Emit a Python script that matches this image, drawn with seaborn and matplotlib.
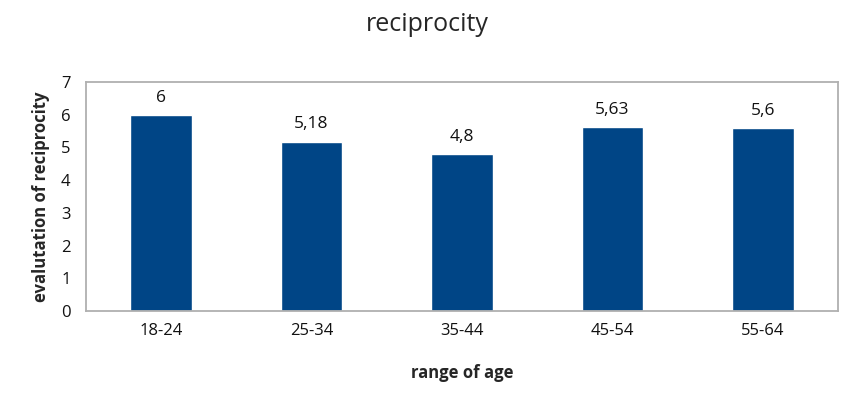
import pandas as pd
import seaborn as sns
import matplotlib.pyplot as plt

# data
age_ranges = ['18-24', '25-34', '35-44', '45-54', '55-64']
reciprocity = [6, 5.18, 4.8, 5.63, 5.6]
value_labels = ['6', '5,18', '4,8', '5,63', '5,6']

df = pd.DataFrame({'age': age_ranges, 'value': reciprocity})

sns.set_style('white')
plt.rcParams['font.family'] = ['Open Sans', 'DejaVu Sans']

fig = plt.figure(figsize=(8.55, 3.93), dpi=100)
ax = fig.add_axes([0.1006, 0.2087, 0.8795, 0.5827])

sns.barplot(x='age', y='value', data=df, color='#004586', saturation=1,
            width=0.41, ax=ax)

for i, lab in enumerate(value_labels):
    ax.text(i, reciprocity[i] + 0.28, lab, ha='center', va='bottom', fontsize=12.5, color='#111111')

ax.set_ylim(0, 7)
ax.set_xlim(-0.5, 4.5)
ax.set_yticks(range(0, 8))
ax.tick_params(axis='both', length=0, labelsize=12, colors='#111111')
ax.tick_params(axis='x', pad=9)
ax.tick_params(axis='y', pad=11)

for s in ax.spines.values():
    s.set_visible(True)
    s.set_color('#b0b0b0')
    s.set_linewidth(1.3)

ax.set_xlabel('range of age', fontsize=12, fontweight='bold', labelpad=18)
ax.set_ylabel('evalutation of reciprocity', fontsize=12, fontweight='bold', labelpad=8)
fig.suptitle('reciprocity', fontsize=18, y=0.97)

fig.savefig('out.png', dpi=100)
